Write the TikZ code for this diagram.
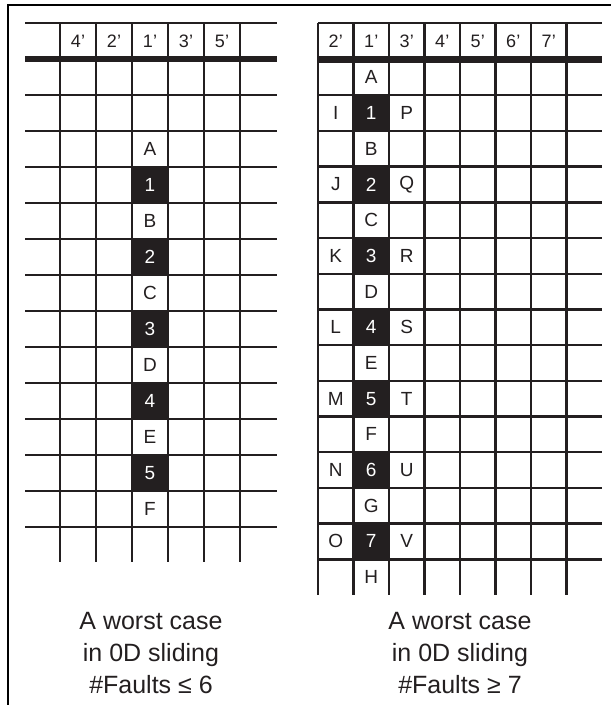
\documentclass[tikz,border=0pt]{standalone}
\usepackage{fontspec}
\setmainfont{Liberation Sans}
\usetikzlibrary{positioning}
\definecolor{ink}{HTML}{231F20}
\tikzset{
  gridline/.style={draw=ink, line width=2.4pt},
  headline/.style={draw=ink, line width=6.5pt},
  frameline/.style={draw=black, line width=2.4pt},
  cell/.style={inner sep=0pt, text=ink, font=\fontsize{19}{19}\selectfont},
  hdr/.style={cell, font=\fontsize{18}{18}\selectfont},
  faultcell/.style={cell, fill=ink, text=white, minimum width=36pt, minimum height=36pt},
  caption/.style={align=center, text=ink, font=\fontsize{25}{32}\selectfont}
}

\begin{document}
\begin{tikzpicture}[x=1pt, y=-1pt]
\useasboundingbox (0,0) rectangle (611,705);

% --- frame
\draw[frameline] (8,705) -- (8,5) -- (611,5);

% --- left grid: cells
\foreach \h [count=\i] in {4',2',1',3',5'}
  \node[hdr] (lh\i) at ({42+36*\i},41) {\h};
\foreach \l [count=\i] in {A,B,C,D,E,F}
  \node[cell] (l\l) at (150,{41+36*(2*\i+1)}) {\l};
\foreach \i in {1,...,5}
  \node[faultcell] (lf\i) at (150,{41+36*(2*\i+2)}) {\i};

% --- left grid: lines
\foreach \y in {23,95,131,...,527}
  \draw[gridline] (25,\y) -- (277,\y);
\draw[headline] (25,59) -- (277,59);
\foreach \x in {60,96,...,240}
  \draw[gridline] (\x,23) -- (\x,562);

% --- right grid: cells
\foreach \h [count=\i from 0] in {2',1',3',4',5',6',7'}
  \node[hdr] (rh\i) at ({335.75+35.5*\i},41) {\h};
\foreach \l [count=\i] in {A,B,C,D,E,F,G,H}
  \node[cell] (r\l) at (371.25,{41.65+35.7*(2*\i-1)}) {\l};
\foreach \i in {1,...,7}
  \node[faultcell, minimum width=35.5pt, minimum height=35.7pt] (rf\i) at (371.25,{41.65+35.7*(2*\i)}) {\i};
\foreach \l [count=\i] in {I,J,K,L,M,N,O}
  \node[cell] (r\l) at (335.75,{41.65+35.7*(2*\i)}) {\l};
\foreach \l [count=\i] in {P,Q,R,S,T,U,V}
  \node[cell] (r\l) at (406.75,{41.65+35.7*(2*\i)}) {\l};

% --- right grid: lines
\draw[gridline] (318,23) -- (602,23);
\foreach \k in {1,...,14}
  \draw[gridline] (318,{59.5+35.7*\k}) -- (602,{59.5+35.7*\k});
\draw[headline] (318,59.5) -- (602,59.5);
\foreach \k in {0,...,7}
  \draw[gridline] ({318+35.5*\k},23) -- ({318+35.5*\k},595);

% --- captions
\node[caption] (lcap) at (151,653) {A worst case\\in 0D sliding\\\#Faults ≤ 6};
\node[caption] (rcap) at (460,653) {A worst case\\in 0D sliding\\\#Faults ≥ 7};
\end{tikzpicture}
\end{document}
